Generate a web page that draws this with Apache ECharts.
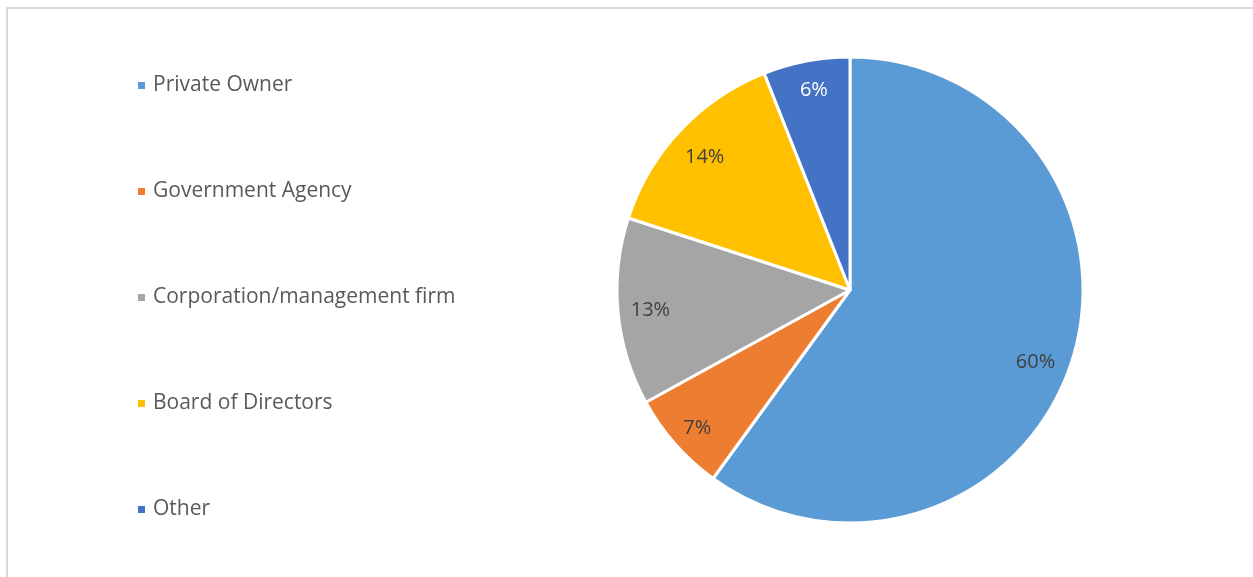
<!DOCTYPE html>
<html>
<head>
<meta charset="utf-8">
<script src="https://cdn.jsdelivr.net/npm/echarts@6/dist/echarts.min.js"></script>
<style>
  html, body { margin: 0; padding: 0; background: #fff; }
  #chart { width: 1253px; height: 577px; }
</style>
</head>
<body>
<div id="chart"></div>
<script>
// Who manages the property
const categories = ['Private Owner', 'Government Agency', 'Corporation/management firm', 'Board of Directors', 'Other'];
const shares = [60, 7, 13, 14, 6];
const colors = ['#5B9BD5', '#ED7D31', '#A5A5A5', '#FFC000', '#4472C4'];
const labelColors = ['#404040', '#404040', '#404040', '#404040', '#ffffff'];
// small nudges for the percentage labels
const labelOffsets = [[-8, 9], [0, 4], [3, 1], [3, 7], [2, 0]];

const font = '"Open Sans", "Noto Sans", sans-serif';

const slices = categories.map((name, i) => ({
  name,
  value: shares[i],
  itemStyle: { color: colors[i] }
}));

const labelSlices = categories.map((name, i) => ({
  name,
  value: shares[i],
  label: { color: labelColors[i], offset: labelOffsets[i] }
}));

const chart = echarts.init(document.getElementById('chart'), null, { renderer: 'canvas' });
chart.setOption({
  animation: false,
  backgroundColor: '#ffffff',
  graphic: [{
    type: 'rect',
    shape: { x: 7, y: 8, width: 1400, height: 700 },
    style: { fill: 'none', stroke: '#d9d9d9', lineWidth: 2 },
    silent: true,
    z: 0
  }],
  legend: {
    orient: 'vertical',
    left: 131,
    top: 70,
    itemWidth: 9,
    itemHeight: 9,
    itemGap: 85,
    icon: 'rect',
    data: categories,
    textStyle: { fontFamily: font, fontSize: 21, color: '#595959', lineHeight: 20, padding: [0, 0, 0, 2] }
  },
  series: [
    {
      type: 'pie',
      center: [850, 290],
      radius: 233,
      startAngle: 90,
      clockwise: true,
      label: { show: false },
      labelLine: { show: false },
      itemStyle: { borderColor: '#ffffff', borderWidth: 3 },
      emphasis: { disabled: true },
      data: slices
    },
    {
      // transparent ring that carries the percentage labels
      type: 'pie',
      center: [850, 290],
      radius: [168, 233],
      startAngle: 90,
      clockwise: true,
      silent: true,
      itemStyle: { color: 'rgba(0,0,0,0)' },
      label: {
        show: true,
        position: 'inside',
        formatter: '{c}%',
        fontFamily: font,
        fontSize: 20,
        color: '#404040'
      },
      labelLine: { show: false },
      emphasis: { disabled: true },
      data: labelSlices
    }
  ]
});
</script>
</body>
</html>
